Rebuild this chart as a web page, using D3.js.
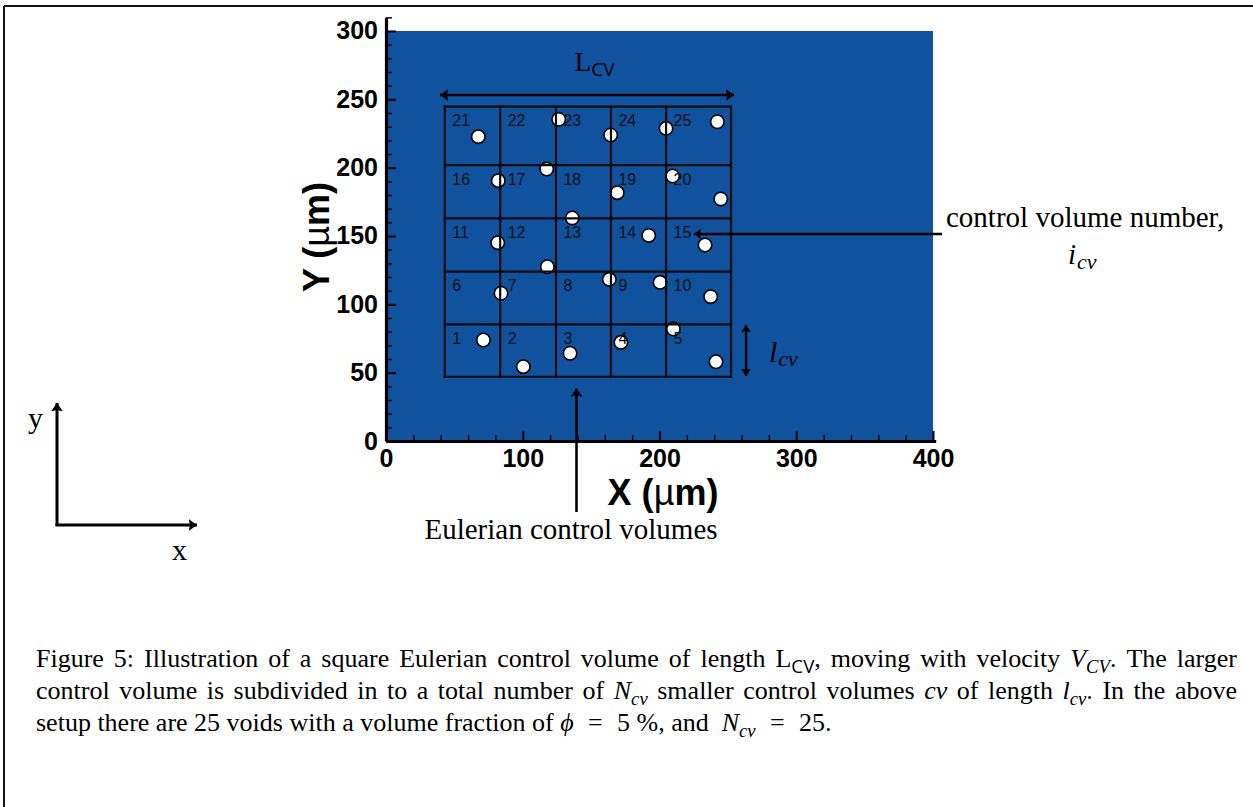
<!DOCTYPE html>
<html>
<head>
<meta charset="utf-8">
<script src="https://cdn.jsdelivr.net/npm/d3@7"></script>
<style>
  html, body { margin: 0; padding: 0; background: #fff; }
  svg { display: block; }
</style>
</head>
<body>
<svg id="fig" width="1253" height="807"></svg>
<script>
// ---- axis ticks (µm) ----
const xTicks = [0, 100, 200, 300, 400];
const yTicks = [0, 50, 100, 150, 200, 250, 300];
const xMinorTicks = d3.range(20, 400, 20).filter(v => v % 100 !== 0);
const yMinorTicks = d3.range(10, 311, 10).filter(v => v % 50 !== 0);

// ---- Eulerian control-volume grid edges (µm) ----
const cellEdgesX = [43, 83.5, 124.3, 164.5, 204.8, 252.3];
const cellEdgesY = [47, 85.4, 123.9, 162.9, 201.9, 244.6];

// ---- void centres (µm) ----
const voidX = [67.5, 126.3, 117.5, 82.1, 136.2, 81.7, 164.3, 204.8, 242.3, 209.6,
               169.1, 244.8, 192.1, 233.3, 118.0, 84.1, 71.2, 100.4, 134.6, 163.3,
               200.4, 237.4, 210.1, 171.8, 241.3];
const voidY = [222.7, 235.4, 199.0, 190.5, 163.2, 145.1, 223.9, 228.8, 233.6, 193.9,
               181.7, 177.1, 150.4, 143.4, 127.5, 108.1, 73.9, 54.4, 64.2, 118.3,
               116.1, 105.6, 81.9, 72.2, 58.0];
const voidRadius = 4.9;

// ---- domain extent (µm) ----
const domainX = [0, 400];
const domainY = [0, 300];

// ---- caption ----
const captionLines = [
  ["Figure", "5:", "Illustration", "of", "a", "square", "Eulerian", "control", "volume", "of", "length",
   [["L", "r"], ["CV", "subSans"], [",", "r"]], "moving", "with", "velocity",
   [["V", "i"], ["CV", "subI"], [".", "r"]], "The", "larger"],
  ["control", "volume", "is", "subdivided", "in", "to", "a", "total", "number", "of",
   [["N", "i"], ["cv", "subI"]], "smaller", "control", "volumes", [["cv", "i"]], "of", "length",
   [["l", "i"], ["cv", "subI"], [".", "r"]], "In", "the", "above"],
  ["setup", "there", "are", "25", "voids", "with", "a", "volume", "fraction", "of",
   [["\u03D5", "i"]], "=", "5", "%,", "and", "", [["N", "i"], ["cv", "subI"]], "=", "25."]
];

const svg = d3.select("#fig");
const SERIF = "'Liberation Serif', 'Times New Roman', serif";
const SANS = "'Liberation Sans', Arial, Helvetica, sans-serif";

const x = d3.scaleLinear().domain([0, 402]).range([386, 386 + 402 * 1.3675]);
const y = d3.scaleLinear().domain([0, 310]).range([441, 441 - 310 * 1.3667]);

// page frame
svg.append("line").attr("x1", 4).attr("x2", 1253).attr("y1", 6).attr("y2", 6)
  .attr("stroke", "#111").attr("stroke-width", 2);
svg.append("line").attr("x1", 4).attr("x2", 4).attr("y1", 6).attr("y2", 807)
  .attr("stroke", "#111").attr("stroke-width", 2);

// arrowhead markers
const defs = svg.append("defs");
function marker(id, size) {
  defs.append("marker")
    .attr("id", id)
    .attr("markerUnits", "userSpaceOnUse")
    .attr("viewBox", `0 ${-size} ${size * 1.4} ${size * 2}`)
    .attr("refX", size * 1.4).attr("refY", 0)
    .attr("markerWidth", size * 1.4).attr("markerHeight", size * 2)
    .attr("orient", "auto-start-reverse")
    .append("path")
    .attr("d", `M0,${-size} L${size * 1.4},0 L0,${size} L${size * 0.25},0 Z`)
    .attr("fill", "#000");
}
marker("arr", 6);
marker("arrSmall", 5);

// flow-field background
svg.append("rect")
  .attr("x", x(domainX[0])).attr("y", y(domainY[1]))
  .attr("width", x(domainX[1]) - x(domainX[0]))
  .attr("height", y(domainY[0]) - y(domainY[1]))
  .attr("fill", "#11529f");

// voids
svg.append("g").selectAll("circle")
  .data(d3.range(voidX.length))
  .join("circle")
  .attr("cx", i => x(voidX[i]))
  .attr("cy", i => y(voidY[i]))
  .attr("r", x(voidRadius) - x(0))
  .attr("fill", "#fff")
  .attr("stroke", "#000")
  .attr("stroke-width", 1.6);

// control-volume grid
const grid = svg.append("g").attr("stroke", "#0b0b0b").attr("stroke-width", 2.2).attr("stroke-linecap", "square");
cellEdgesX.forEach(v => {
  grid.append("line").attr("x1", x(v)).attr("x2", x(v))
    .attr("y1", y(cellEdgesY[0])).attr("y2", y(cellEdgesY[cellEdgesY.length - 1]));
});
cellEdgesY.forEach(v => {
  grid.append("line").attr("y1", y(v)).attr("y2", y(v))
    .attr("x1", x(cellEdgesX[0])).attr("x2", x(cellEdgesX[cellEdgesX.length - 1]));
});

// control-volume numbers
const nCols = cellEdgesX.length - 1, nRows = cellEdgesY.length - 1;
const cellLabels = svg.append("g").attr("font-family", SANS).attr("font-size", 16).attr("fill", "#111");
for (let r = 0; r < nRows; r++) {
  for (let c = 0; c < nCols; c++) {
    cellLabels.append("text")
      .attr("x", x(cellEdgesX[c]) + 7.5)
      .attr("y", y(cellEdgesY[r + 1]) + 19.5)
      .text(r * nCols + c + 1);
  }
}

// axes
const axisFont = g => g.selectAll("text")
  .attr("font-family", SANS).attr("font-weight", "bold").attr("font-size", 25).attr("fill", "#000");

const yAxis = svg.append("g").attr("transform", `translate(${x(0)},0)`)
  .call(d3.axisLeft(y).tickValues(yTicks).tickSize(-10).tickSizeOuter(0).tickPadding(8));
yAxis.call(axisFont);
yAxis.select(".domain").attr("stroke-width", 3.2).attr("stroke", "#000");
yAxis.selectAll(".tick line").attr("stroke-width", 2).attr("stroke", "#000");
svg.append("g").attr("transform", `translate(${x(0)},0)`)
  .call(d3.axisLeft(y).tickValues(yMinorTicks).tickSize(-6).tickFormat(""))
  .call(g => g.select(".domain").remove())
  .selectAll("line").attr("stroke-width", 1.4).attr("stroke", "#000");

const xAxis = svg.append("g").attr("transform", `translate(0,${y(0)})`)
  .call(d3.axisBottom(x).tickValues(xTicks).tickSize(-10).tickSizeOuter(0).tickPadding(8));
xAxis.call(axisFont);
xAxis.select(".domain").attr("stroke-width", 3.2).attr("stroke", "#000");
xAxis.selectAll(".tick line").attr("stroke-width", 2).attr("stroke", "#000");
svg.append("g").attr("transform", `translate(0,${y(0)})`)
  .call(d3.axisBottom(x).tickValues(xMinorTicks).tickSize(-6).tickFormat(""))
  .call(g => g.select(".domain").remove())
  .selectAll("line").attr("stroke-width", 1.4).attr("stroke", "#000");

// axis titles
function axisTitle(sel, letter) {
  sel.attr("font-family", SANS).attr("font-size", 36).attr("text-anchor", "middle").attr("fill", "#000");
  sel.append("tspan").attr("font-weight", "bold").text(letter + " (");
  sel.append("tspan").attr("font-weight", "normal").text("\u00B5");
  sel.append("tspan").attr("font-weight", "bold").text("m)");
}
svg.append("text").attr("x", 663).attr("y", 505).call(axisTitle, "X");
svg.append("text").attr("transform", "translate(329,237) rotate(-90)").call(axisTitle, "Y");

// L_CV dimension arrow
const lcvY = 253.2;
svg.append("line")
  .attr("x1", x(39.5)).attr("x2", x(254.5)).attr("y1", y(lcvY)).attr("y2", y(lcvY))
  .attr("stroke", "#000").attr("stroke-width", 2.6)
  .attr("marker-start", "url(#arr)").attr("marker-end", "url(#arr)");
const lcvLabel = svg.append("text").attr("x", x(138)).attr("y", y(lcvY) - 24)
  .attr("font-family", SERIF).attr("font-size", 27).attr("fill", "#000");
lcvLabel.append("tspan").text("L");
lcvLabel.append("tspan").attr("font-family", "'Open Sans', sans-serif").attr("font-size", 19).attr("dy", 5).text("CV");

// l_cv dimension arrow
svg.append("line")
  .attr("x1", x(263.3)).attr("x2", x(263.3)).attr("y1", y(cellEdgesY[1]) + 1).attr("y2", y(cellEdgesY[0]) - 1)
  .attr("stroke", "#000").attr("stroke-width", 2.4)
  .attr("marker-start", "url(#arrSmall)").attr("marker-end", "url(#arrSmall)");
const lLabel = svg.append("text").attr("x", x(280)).attr("y", y(58))
  .attr("font-family", SERIF).attr("font-style", "italic").attr("font-size", 30).attr("fill", "#000");
lLabel.append("tspan").text("l");
lLabel.append("tspan").attr("font-size", 22).attr("dy", 4).attr("dx", 1).text("cv");

// control volume number pointer
svg.append("line")
  .attr("x1", 942).attr("x2", x(225.2)).attr("y1", y(151.5)).attr("y2", y(151.5))
  .attr("stroke", "#000").attr("stroke-width", 2.6)
  .attr("marker-end", "url(#arrSmall)");
svg.append("text").attr("x", 946).attr("y", 227)
  .attr("font-family", SERIF).attr("font-size", 29).attr("fill", "#000")
  .text("control volume number,");
const icv = svg.append("text").attr("x", 1068).attr("y", 264)
  .attr("font-family", SERIF).attr("font-style", "italic").attr("font-size", 29).attr("fill", "#000");
icv.append("tspan").text("i");
icv.append("tspan").attr("font-size", 22).attr("dy", 5).attr("dx", 1).text("cv");

// Eulerian control volumes pointer
svg.append("line")
  .attr("x1", x(139.3)).attr("x2", x(139.3)).attr("y1", 512).attr("y2", y(38.5))
  .attr("stroke", "#000").attr("stroke-width", 2.6)
  .attr("marker-end", "url(#arr)");
svg.append("text").attr("x", 571).attr("y", 539).attr("text-anchor", "middle")
  .attr("font-family", SERIF).attr("font-size", 29).attr("fill", "#000")
  .text("Eulerian control volumes");

// coordinate-system sketch
svg.append("line").attr("x1", 57).attr("x2", 57).attr("y1", 526).attr("y2", 403)
  .attr("stroke", "#000").attr("stroke-width", 3).attr("marker-end", "url(#arr)");
svg.append("line").attr("x1", 55.5).attr("x2", 197).attr("y1", 525).attr("y2", 525)
  .attr("stroke", "#000").attr("stroke-width", 3).attr("marker-end", "url(#arr)");
svg.append("text").attr("x", 28).attr("y", 428).attr("font-family", SERIF).attr("font-size", 30).text("y");
svg.append("text").attr("x", 172).attr("y", 560).attr("font-family", SERIF).attr("font-size", 30).text("x");

// caption, first two lines justified
const capFS = 26, capLeft = 36, capRight = 1237, capBase = [667, 699, 731];
const cap = svg.append("g").attr("font-family", SERIF).attr("font-size", capFS).attr("fill", "#000");
function drawWord(runs) {
  const t = cap.append("text");
  let shift = 0;
  runs.forEach(([s, st]) => {
    const isSub = st.startsWith("sub");
    const target = isSub ? 6 : 0;
    const ts = t.append("tspan").attr("dy", target - shift).text(s);
    shift = target;
    if (isSub) ts.attr("font-size", capFS * 0.72);
    if (st === "i" || st === "subI") ts.attr("font-style", "italic");
    if (st === "subSans") ts.attr("font-family", "'Open Sans', sans-serif");
  });
  return t;
}
captionLines.forEach((words, li) => {
  const nodes = words.map(w => drawWord(typeof w === "string" ? [[w, "r"]] : w));
  const widths = nodes.map(n => n.node().getComputedTextLength());
  const total = d3.sum(widths);
  const justify = li < captionLines.length - 1;
  const evenGap = (capRight - capLeft - total) / (nodes.length - 1);
  let cx = capLeft;
  nodes.forEach((n, i) => {
    n.attr("x", cx).attr("y", capBase[li]);
    n.select("tspan").attr("x", cx);
    let gap = evenGap;
    if (!justify) {
      const nextWord = words[i + 1];
      gap = (words[i] === "=" || nextWord === "=") ? capFS * 0.55 : capFS * 0.25;
    }
    cx += widths[i] + gap;
  });
});
</script>
</body>
</html>
